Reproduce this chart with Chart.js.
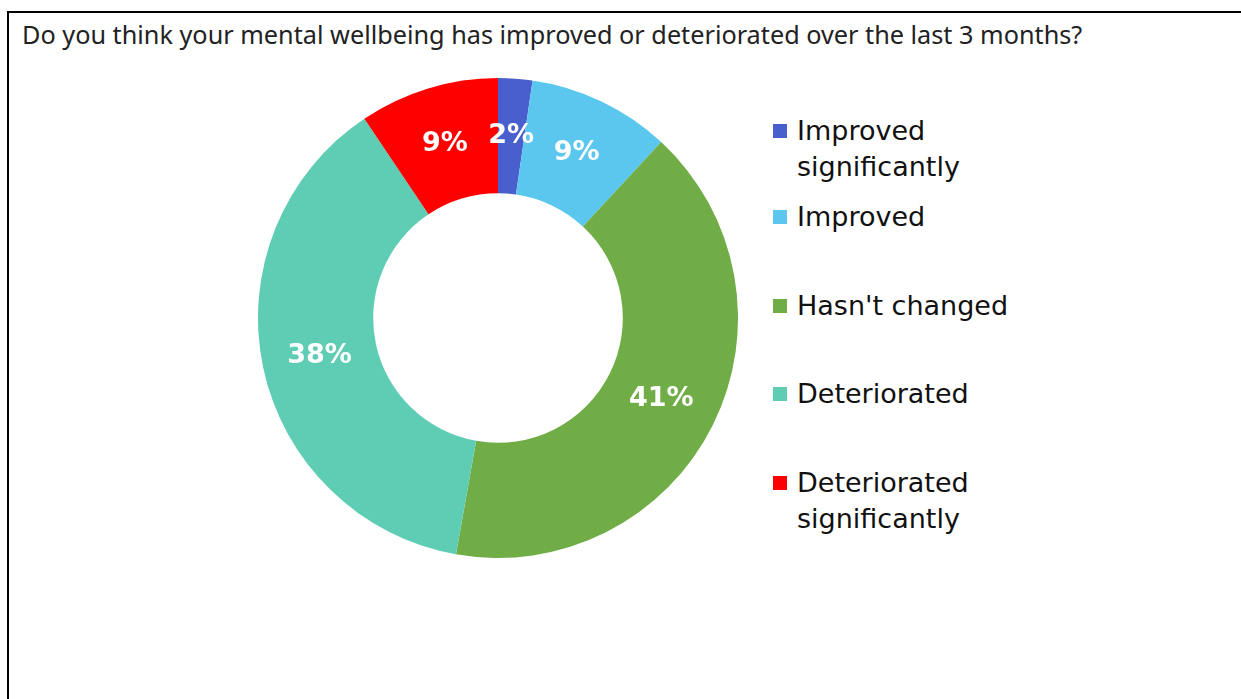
<!DOCTYPE html>
<html>
<head>
  <title>Mental wellbeing</title>
  <meta charset="utf-8" />
  <style>
    body {
      margin: 0;
      background: #fff;
      font-family: "Noto Sans", "Open Sans", sans-serif;
    }
    #frame {
      position: absolute;
      left: 7px;
      top: 11px;
      width: 1260px;
      height: 720px;
      border-top: 2px solid #000;
      border-left: 2px solid #000;
    }
    #title {
      position: absolute;
      left: 22px;
      top: 17px;
      font-size: 20px;
      color: #222;
      white-space: nowrap;
    }
    #wrap {
      position: absolute;
      left: 258px;
      top: 78px;
      width: 480px;
      height: 480px;
    }
    #legend {
      position: absolute;
      left: 0;
      top: 0;
      font-family: "DejaVu Sans", sans-serif;
      font-size: 27px;
      color: #111;
    }
    .item {
      position: absolute;
      left: 773px;
      line-height: 36px;
      white-space: nowrap;
    }
    .item i {
      position: absolute;
      left: 0;
      top: 11px;
      width: 14px;
      height: 14px;
    }
    .item span {
      display: block;
      padding-left: 24px;
    }
  </style>
</head>
<body>
  <div id="frame"></div>
  <div id="title">Do you think your mental wellbeing has improved or deteriorated over the last 3 months?</div>
  <div id="wrap"><canvas id="chart"></canvas></div>
  <div id="legend"></div>

  <script src="https://cdn.jsdelivr.net/npm/chart.js"></script>
  <script>
    const categories = ['Improved significantly', 'Improved', "Hasn't changed", 'Deteriorated', 'Deteriorated significantly'];
    const legendLines = [['Improved', 'significantly'], ['Improved'], ["Hasn't changed"], ['Deteriorated'], ['Deteriorated', 'significantly']];
    const shares = [2.3, 9.6, 40.9, 37.8, 9.4];
    const shareLabels = ['2%', '9%', '41%', '38%', '9%'];
    const colors = ['#4a5fce', '#5bc7ef', '#70ad47', '#5ecdb4', '#ff0000'];
    const legendTops = [113, 199, 288, 376, 465];

    // stretch the title to the width it has in the original
    const title = document.getElementById('title');
    title.style.fontSize = (20 * 1061 / title.offsetWidth).toFixed(2) + 'px';

    const legend = document.getElementById('legend');
    categories.forEach((c, i) => {
      const d = document.createElement('div');
      d.className = 'item';
      d.style.top = legendTops[i] + 'px';
      d.title = c;
      d.innerHTML = `<i style="background:${colors[i]}"></i>` + legendLines[i].map(t => `<span>${t}</span>`).join('');
      legend.appendChild(d);
    });

    const sliceLabels = {
      id: 'sliceLabels',
      afterDatasetsDraw(chart) {
        const ctx = chart.ctx;
        ctx.save();
        ctx.font = 'bold 27px "DejaVu Sans"';
        ctx.fillStyle = '#fff';
        ctx.textAlign = 'center';
        ctx.textBaseline = 'middle';
        chart.getDatasetMeta(0).data.forEach((arc, i) => {
          const p = arc.getCenterPoint();
          ctx.fillText(shareLabels[i], p.x, p.y);
        });
        ctx.restore();
      }
    };

    new Chart(document.getElementById('chart'), {
      type: 'doughnut',
      data: {
        labels: categories,
        datasets: [{
          data: shares,
          backgroundColor: colors,
          borderWidth: 0
        }]
      },
      options: {
        responsive: true,
        maintainAspectRatio: false,
        animation: false,
        cutout: '52%',
        layout: { padding: 0 },
        plugins: {
          legend: { display: false },
          tooltip: { enabled: false }
        }
      },
      plugins: [sliceLabels]
    });
  </script>
</body>
</html>
